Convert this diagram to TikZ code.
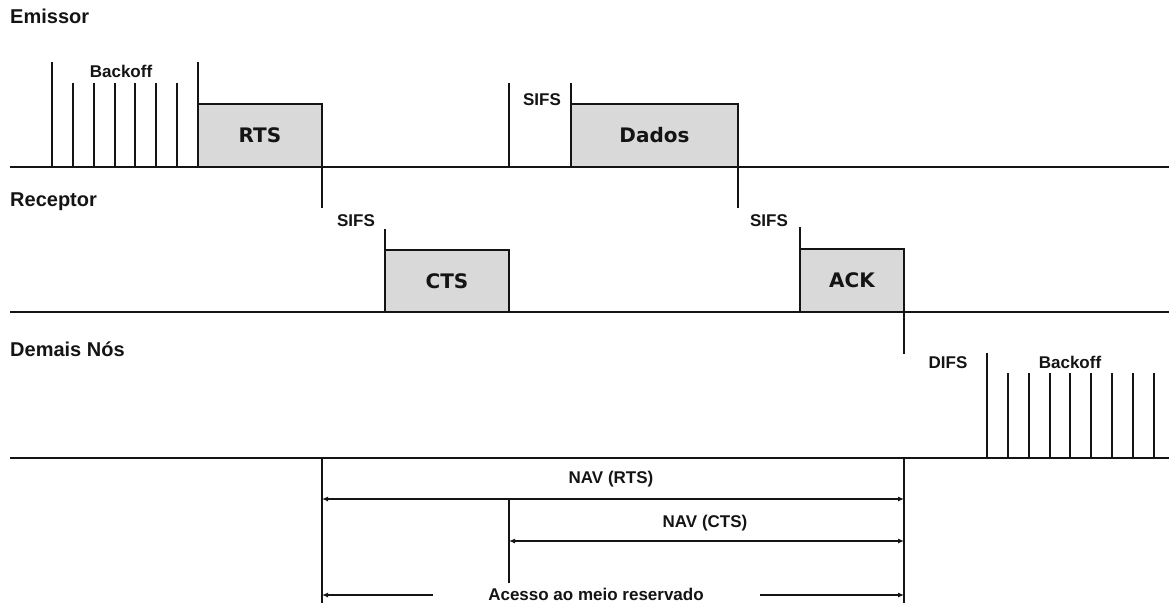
\documentclass[tikz,border=0pt]{standalone}
\usepackage{fontspec}
\setmainfont{Liberation Sans}
\newfontfamily\framefont{DejaVu Sans}
\usetikzlibrary{
    arrows.meta,
    positioning
}
\definecolor{framegray}{RGB}{217,217,217}
\definecolor{inkgray}{RGB}{20,20,20}

\begin{document}
\begin{tikzpicture}[
        x=1pt, y=-1pt,
        axis/.style={
            line width=2.4pt,
            draw=inkgray
        },
        tick/.style={
            line width=1.6pt,
            draw=inkgray
        },
        frame/.style={
            draw=inkgray,
            line width=1.5pt,
            fill=framegray,
            anchor=south west,
            inner sep=0pt,
            outer sep=0pt,
            minimum height=63pt,
            text=inkgray,
            font=\framefont\bfseries\fontsize{20}{24}\selectfont
        },
        rowlabel/.style={
            anchor=base west,
            inner sep=0pt,
            text=inkgray,
            font=\bfseries\fontsize{20}{24}\selectfont
        },
        tag/.style={
            anchor=base,
            inner sep=0pt,
            text=inkgray,
            font=\bfseries\fontsize{17}{20}\selectfont
        },
        nav/.style={
            {Latex[length=6pt,width=5pt]}-{Latex[length=6pt,width=5pt]},
            line width=1.1pt,
            draw=inkgray
        },
        half/.style={
            -{Latex[length=6pt,width=5pt]},
            line width=1.1pt,
            draw=inkgray
        }
    ]

    \useasboundingbox (0,0) rectangle (1169,606);

    % rows
    \node[rowlabel] (emissor) at (10,23) {Emissor};
    \node[rowlabel] (receptor) at (10,206) {Receptor};
    \node[rowlabel] (demais) at (10,356) {Demais Nós};

    % emissor
    \node[tag] (backoffA) at (121,77) {Backoff};
    \draw[tick] (52,62) -- (52,167);
    \foreach \x in {73,94,115,135,156,177}
        \draw[tick] (\x,83) -- (\x,167);
    \node[frame, minimum width=124pt] (rts) at (198,167) {RTS};
    \draw[tick] (rts.north west) -- (198,62);
    \draw[tick] (rts.south east) -- ++(0,41);

    \node[tag] (sifsA) at (542,105.7) {SIFS};
    \draw[tick] (509,83) -- (509,167);
    \node[frame, minimum width=167pt] (dados) at (571,167) {Dados};
    \draw[tick] (dados.north west) -- ++(0,-21);
    \draw[tick] (dados.south east) -- ++(0,41);

    % receptor
    \node[tag] (sifsB) at (356,226.7) {SIFS};
    \node[frame, minimum width=124pt, minimum height=62pt] (cts) at (385,312) {CTS};
    \draw[tick] (cts.north west) -- ++(0,-21);

    \node[tag] (sifsC) at (769,226.5) {SIFS};
    \node[frame, minimum width=104pt] (ack) at (800,312) {ACK};
    \draw[tick] (ack.north west) -- ++(0,-22);
    \draw[tick] (ack.south east) -- ++(0,42);

    % demais nos
    \node[tag] (difs) at (948,368) {DIFS};
    \node[tag] (backoffB) at (1070,368) {Backoff};
    \draw[tick] (987,353) -- (987,458);
    \foreach \x in {1008,1029,1050,1070,1091,1112,1133,1154}
        \draw[tick] (\x,373) -- (\x,458);

    \draw[axis] (10,167) -- (1169,167);
    \draw[axis] (10,312) -- (1169,312);
    \draw[axis] (10,458) -- (1169,458);

    % nav
    \coordinate (navL) at (322,458);
    \coordinate (navR) at (904,458);
    \coordinate (rtsL) at (322,499);
    \coordinate (rtsR) at (904,499);
    \coordinate (ctsL) at (509,541);
    \coordinate (ctsR) at (904,541);
    \coordinate (accL) at (322,595);
    \coordinate (accR) at (904,595);

    \draw[tick] (navL) -- (322,603);
    \draw[tick] (navR) -- (904,603);
    \draw[tick] (509,499) -- (509,583);

    \node[tag] (navrts) at (611,483.3) {NAV (RTS)};
    \draw[nav] (rtsL) -- (rtsR);
    \node[tag] (navcts) at (705,527) {NAV (CTS)};
    \draw[nav] (ctsL) -- (ctsR);

    \node[tag] (acesso) at (596,600.5) {Acesso ao meio reservado};
    \draw[half] (433,595) -- (accL);
    \draw[half] (760,595) -- (accR);

\end{tikzpicture}
\end{document}
